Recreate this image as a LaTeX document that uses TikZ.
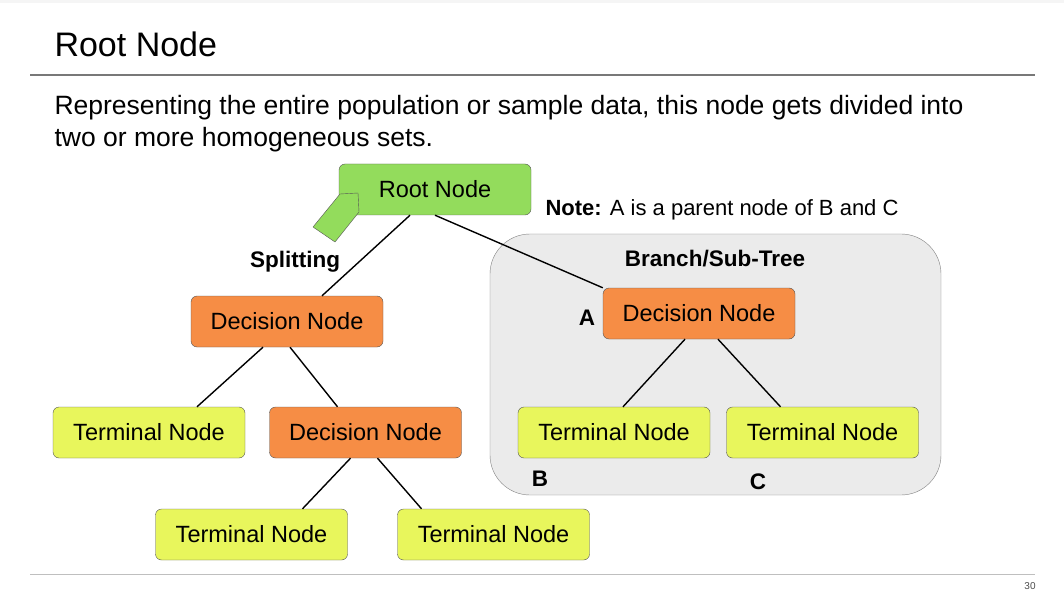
\documentclass[tikz,border=0pt]{standalone}
\usepackage{fontspec}
\setmainfont{Liberation Sans}
\usepackage{xcolor}
\usepackage{tikz}
\usetikzlibrary{calc}
\definecolor{tree-green}{RGB}{147, 220, 92}
\definecolor{tree-orange}{RGB}{246, 141, 69}
\definecolor{tree-yellow}{RGB}{232, 246, 92}
\definecolor{tree-line}{RGB}{85, 85, 85}
\definecolor{sub-gray}{RGB}{235, 235, 235}
\definecolor{sub-line}{RGB}{130, 130, 130}
\definecolor{rule-gray}{RGB}{120, 120, 120}

\begin{document}
\begin{tikzpicture}[x = 1pt, y = -1pt,
    treebox/.style = {draw = tree-line, rounded corners = 6pt, minimum width = 192pt,
      minimum height = 51pt, inner sep = 0pt, font = \fontsize{23.5}{27}\selectfont},
    tag/.style = {anchor = base, font = \fontsize{22.5}{26}\selectfont\bfseries},
    edge/.style = {line width = 1.4pt}]
          \useasboundingbox (0, 0) rectangle (1064, 601);
          \fill[gray!8] (0, 0) rectangle (1064, 3);

          \coordinate (root-c) at (435, 189.5);
          \coordinate (dec1-c) at (287, 321.5);
          \coordinate (dec2-c) at (365.5, 432.5);
          \coordinate (deca-c) at (699, 313.5);


          % header and text
          \node[anchor = base west, font = \fontsize{34}{40}\selectfont] (title) at (51, 57) {Root Node};
          \draw[rule-gray, line width = 1.2pt] (30, 75) -- (1035, 75);
          \node[anchor = base west, font = \fontsize{26.5}{32}\selectfont] (line1) at (51, 115)
            {Representing the entire population or sample data, this node gets divided into};
          \node[anchor = base west, font = \fontsize{26.5}{32}\selectfont] (line2) at (51, 147)
            {two or more homogeneous sets.};

          % sub-tree box
          \draw[sub-line, fill = sub-gray, rounded corners = 40pt] (490, 234) rectangle (941, 495);

          \node[treebox, fill = tree-green] (root) at (root-c) {Root Node};
          \node[treebox, fill = tree-orange] (dec1) at (dec1-c) {Decision Node};
          \node[treebox, fill = tree-yellow] (term1) at (149, 432.5) {Terminal Node};
          \node[treebox, fill = tree-orange] (dec2) at (dec2-c) {Decision Node};
          \node[treebox, fill = tree-yellow] (term2) at (251.5, 534.5) {Terminal Node};
          \node[treebox, fill = tree-yellow] (term3) at (493.5, 534.5) {Terminal Node};
          \node[treebox, fill = tree-orange] (deca) at (deca-c) {Decision Node};
          \node[treebox, fill = tree-yellow] (termb) at (614, 432.5) {Terminal Node};
          \node[treebox, fill = tree-yellow] (termc) at (822.5, 432.5) {Terminal Node};

          \draw[edge] ([xshift = -25pt]root.south) -- ([xshift = 35pt]dec1.north);
          \draw[edge] (root.south) -- (deca.north west);
          \draw[edge] ([xshift = -24pt]dec1.south) -- ([xshift = 48pt]term1.north);
          \draw[edge] ([xshift = 3pt]dec1.south) -- ([xshift = -28pt]dec2.north);
          \draw[edge] ([xshift = -15pt]dec2.south) -- ([xshift = 51pt]term2.north);
          \draw[edge] ([xshift = 12pt]dec2.south) -- ([xshift = -72pt]term3.north);
          \draw[edge] ([xshift = -14pt]deca.south) -- ([xshift = 9pt]termb.north);
          \draw[edge] ([xshift = 19pt]deca.south) -- ([xshift = -42pt]termc.north);

          % splitting arrow
          \draw[tree-line, fill = tree-green, line join = round]
            (340, 194) -- (358, 193) -- (359, 212) -- (335, 242) -- (313, 227) -- cycle;

          \node[tag] (split) at (295, 268) {Splitting};
          \node[tag] (branch) at (715, 267) {Branch/Sub-Tree};
          \node[tag] (lbl-a) at (587, 325) {A};
          \node[tag] (lbl-b) at (540, 486) {B};
          \node[tag] (lbl-c) at (758, 489) {C};
          \node[anchor = base west, font = \fontsize{22}{26}\selectfont] (note) at (542, 216)
            {\textbf{Note:} A is a parent node of B and C};

          \draw[gray!50, line width = 1pt] (30, 574) -- (1035, 574);
          \node[anchor = base, font = \fontsize{10}{12}\selectfont, black!70] (page) at (1030, 589) {30};
        \end{tikzpicture}
\end{document}
